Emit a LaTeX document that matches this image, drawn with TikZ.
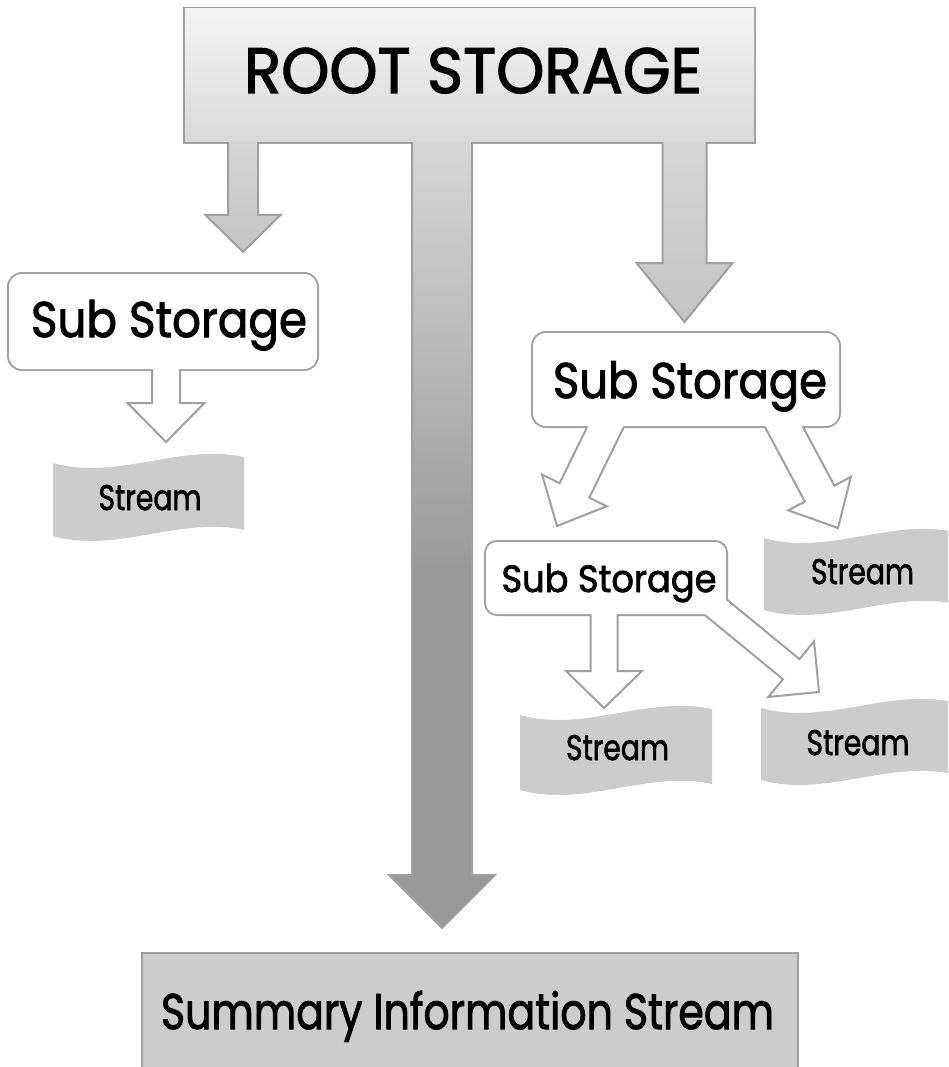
\documentclass[tikz,border=0pt]{standalone}
\usepackage{fontspec}
\setmainfont{Poppins}[FakeBold=2]
\usetikzlibrary{calc}

\definecolor{boxtop}{HTML}{F4F4F4}
\definecolor{boxbot}{HTML}{D9D9D9}
\definecolor{arrowtip}{HTML}{C4C4C4}
\definecolor{edgegray}{HTML}{A0A0A0}
\definecolor{flaggray}{HTML}{CCCCCC}
\definecolor{trunkdark}{HTML}{999999}
\definecolor{trunklight}{HTML}{DADADA}

% the long trunk darkens towards the middle and stays dark down to its head
\pgfdeclareverticalshading{trunkshade}{100bp}{color(0bp)=(trunkdark); color(47bp)=(trunkdark); color(75bp)=(trunklight); color(100bp)=(trunklight)}

% block arrow: #2 tail, #3 tip, #4 half shaft width, #5 half head width, #6 head length
\newcommand\blockarrow[6][]{%
  \coordinate (ba-base) at ($(#3)!#6!(#2)$);
  \path[#1] ($(#2)!#4!90:(#3)$) -- ($(ba-base)!#4!90:(#3)$) -- ($(ba-base)!#5!90:(#3)$)
    -- (#3) -- ($(ba-base)!#5!-90:(#3)$) -- ($(ba-base)!#4!-90:(#3)$)
    -- ($(#2)!#4!-90:(#3)$) -- cycle;
}

% waving banner: #1 left x, #2 top-left y, #3 width, #4 height
\newcommand\flagshape[4]{%
  \fill[flaggray] (#1,#2) .. controls +(#3/3,18) and +(-#3/3,-14) .. (#1+#3,#2-6)
    -- (#1+#3,#2-6+#4) .. controls +(-#3/3,-14) and +(#3/3,18) .. (#1,#2+#4) -- cycle;
}

% label squeezed to a set width, height kept
\newcommand\fitlabel[2]{\resizebox{#1}{\height}{#2}}

\tikzset{
  every node/.style={inner sep=0pt, outer sep=0pt},
  rootbox/.style={draw=edgegray, line width=2pt, top color=boxtop, bottom color=boxbot},
  rootarrow/.style={draw=edgegray, line width=2pt, top color=boxbot, bottom color=arrowtip},
  trunkarrow/.style={draw=edgegray, line width=2pt, shading=trunkshade},
  subbox/.style={draw=edgegray, line width=2pt, fill=white, rounded corners=14pt},
  hollowarrow/.style={draw=edgegray, line width=2pt, fill=white},
  summarybox/.style={draw=edgegray, line width=2pt, fill=flaggray},
  rootlbl/.style={anchor=base, font=\fontsize{64}{70}\selectfont},
  bigsublbl/.style={anchor=base, font=\fontsize{50}{56}\selectfont},
  smallsublbl/.style={anchor=base, font=\fontsize{38}{44}\selectfont},
  flaglbl/.style={anchor=base, font=\fontsize{35.5}{40}\selectfont},
  summarylbl/.style={anchor=base, font=\fontsize{50}{56}\selectfont},
}

\begin{document}
\begin{tikzpicture}[x=1pt, y=-1pt]
\useasboundingbox (0,0) rectangle (948,1067);
\clip (0,0) rectangle (948,1067);

% ---- root storage with its three outgoing arrows
\node[rootbox, minimum width=571pt, minimum height=135pt] (root) at (469.5,75.5) {};
\coordinate (rootL-tail) at (243,120);   \coordinate (rootL-tip) at (243,252);
\coordinate (rootR-tail) at (684.5,120); \coordinate (rootR-tip) at (684.5,322);
\coordinate (trunk-tail) at (442,120);   \coordinate (trunk-tip) at (442,928);
\blockarrow[rootarrow]{rootL-tail}{rootL-tip}{15pt}{37.5pt}{37pt}
\blockarrow[rootarrow]{rootR-tail}{rootR-tip}{22pt}{48pt}{59pt}
\blockarrow[trunkarrow]{trunk-tail}{trunk-tip}{30pt}{53pt}{53pt}
\path[top color=boxtop, bottom color=boxbot]
  ([xshift=1pt,yshift=-1pt]root.north west) rectangle ([xshift=-1pt,yshift=1pt]root.south east);
\node[rootlbl] (rootText) at (473,93) {\fitlabel{458pt}{ROOT STORAGE}};

% ---- left sub storage
\node[subbox, minimum width=310pt, minimum height=97pt] (subA) at (163,321.5) {};
\coordinate (subA-tail) at (166,350); \coordinate (subA-tip) at (166,442);
\blockarrow[hollowarrow]{subA-tail}{subA-tip}{14pt}{38.5pt}{39pt}
\fill[white, rounded corners=13pt]
  ([xshift=1pt,yshift=-1pt]subA.north west) rectangle ([xshift=-1pt,yshift=1pt]subA.south east);
\node[bigsublbl] (subAText) at (169,337) {\fitlabel{276pt}{Sub Storage}};

% ---- right sub storage
\node[subbox, minimum width=308pt, minimum height=95pt] (subB) at (686,379.5) {};
\coordinate (subB1-tail) at (614.3,409); \coordinate (subB1-tip) at (557,526);
\coordinate (subB2-tail) at (774.6,409.4); \coordinate (subB2-tip) at (838,528);
\blockarrow[hollowarrow]{subB1-tail}{subB1-tip}{16.5pt}{36pt}{39.6pt}
\blockarrow[hollowarrow]{subB2-tail}{subB2-tip}{16.8pt}{35.5pt}{39pt}
\fill[white, rounded corners=13pt]
  ([xshift=1pt,yshift=-1pt]subB.north west) rectangle ([xshift=-1pt,yshift=1pt]subB.south east);
\node[bigsublbl] (subBText) at (690,398) {\fitlabel{274pt}{Sub Storage}};

% ---- nested sub storage
\node[subbox, rounded corners=12pt, minimum width=242pt, minimum height=74pt] (subC) at (606,578) {};
\coordinate (subC1-tail) at (604,595); \coordinate (subC1-tip) at (604,708);
\coordinate (subC2-tail) at (696,591); \coordinate (subC2-tip) at (819,692);
\blockarrow[hollowarrow]{subC1-tail}{subC1-tip}{13.5pt}{38pt}{37pt}
\blockarrow[hollowarrow]{subC2-tail}{subC2-tip}{13pt}{36pt}{36pt}
\fill[white, rounded corners=11pt]
  ([xshift=1pt,yshift=-1pt]subC.north west) rectangle ([xshift=-1pt,yshift=1pt]subC.south east);
\node[smallsublbl] (subCText) at (609,592) {\fitlabel{215pt}{Sub Storage}};

% ---- streams
\flagshape{53}{463}{191}{73}
\node[flaglbl] (streamA) at (150,510) {\fitlabel{103pt}{Stream}};
\flagshape{764}{538}{191}{72}
\node[flaglbl] (streamB) at (862.5,584) {\fitlabel{103pt}{Stream}};
\flagshape{520}{715}{192}{75}
\node[flaglbl] (streamC) at (617.5,760) {\fitlabel{103pt}{Stream}};
\flagshape{761}{708}{191}{72}
\node[flaglbl] (streamD) at (858,755) {\fitlabel{103pt}{Stream}};

% ---- summary information stream
\node[summarybox, minimum width=656pt, minimum height=130pt] (summary) at (470,1018) {};
\node[summarylbl] (summaryText) at (467.5,1029) {\fitlabel{613pt}{Summary Information Stream}};
\end{tikzpicture}
\end{document}
